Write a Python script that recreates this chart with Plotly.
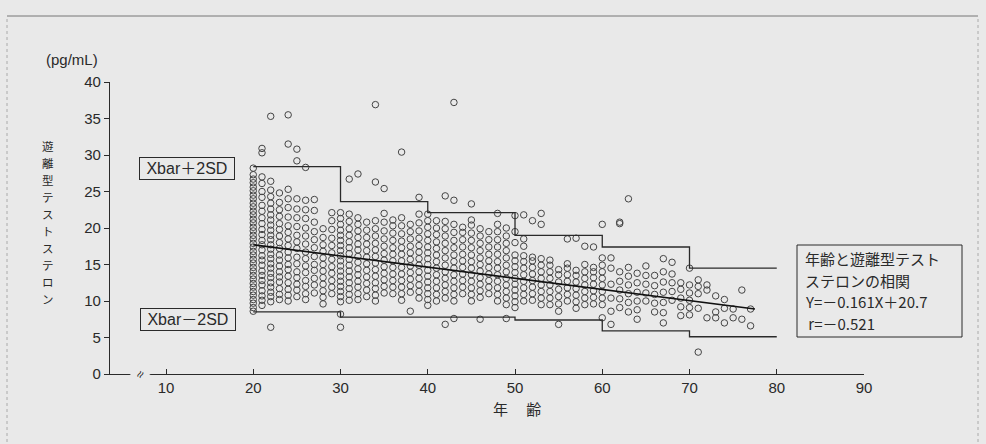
import plotly.graph_objects as go

# ---------------- data ----------------
# values per age; list index i -> age decade_start + i
vals_20s = [
    [8.6, 9.1, 9.7, 10.2, 10.8, 11.3, 11.9, 12.4, 13.0, 13.5, 14.1, 14.6, 15.2, 15.7, 16.3, 16.8, 17.4, 17.9, 18.5, 19.0, 19.6, 20.1, 20.7, 21.2, 21.8, 22.3, 22.9, 23.4, 24.0, 24.5, 25.1, 25.6, 26.2, 26.7, 27.3, 28.2],
    [9.4, 10.1, 10.7, 11.4, 12.2, 12.8, 13.5, 14.1, 14.9, 15.6, 16.2, 17.0, 17.7, 18.3, 19.1, 19.8, 20.6, 21.4, 22.3, 23.1, 24.2, 25.0, 26.1, 27.0, 30.3, 30.9],
    [6.4, 9.9, 10.6, 11.2, 11.9, 12.5, 13.2, 13.8, 14.5, 15.1, 15.8, 16.4, 17.1, 17.7, 18.4, 19.0, 19.7, 20.4, 21.1, 21.8, 22.6, 23.4, 24.3, 25.2, 26.4, 35.3],
    [10.2, 10.9, 11.7, 12.6, 13.3, 14.0, 14.8, 15.6, 16.3, 17.2, 18.0, 18.9, 19.8, 20.6, 21.6, 22.5, 23.5, 24.8],
    [10.0, 10.8, 11.6, 12.5, 13.4, 14.3, 15.0, 15.9, 16.7, 17.6, 18.5, 19.4, 20.3, 21.5, 22.8, 24.0, 25.3, 31.5, 35.5],
    [10.6, 11.5, 12.3, 13.2, 14.0, 15.1, 16.0, 17.2, 18.1, 19.0, 20.2, 21.4, 22.6, 24.0, 29.2, 30.8],
    [10.2, 11.0, 12.0, 12.8, 13.9, 14.8, 15.8, 16.7, 17.8, 18.9, 20.0, 21.3, 22.5, 23.8, 28.3],
    [11.1, 12.2, 13.1, 14.2, 15.0, 16.1, 17.3, 18.4, 19.5, 20.8, 22.4, 23.9],
    [9.6, 10.5, 11.4, 12.3, 13.2, 14.1, 15.0, 15.9, 16.8, 17.7, 18.7, 19.9],
    [11.0, 11.9, 12.8, 13.8, 14.7, 15.7, 16.6, 17.6, 18.6, 19.8, 21.0, 22.1],
]
vals_30s = [
    [6.4, 8.2, 9.9, 10.6, 11.3, 12.0, 12.7, 13.4, 14.1, 14.8, 15.5, 16.2, 16.9, 17.6, 18.3, 19.0, 19.7, 20.5, 21.3, 22.1],
    [10.1, 10.9, 11.7, 12.5, 13.3, 14.1, 14.9, 15.7, 16.5, 17.3, 18.1, 19.0, 19.9, 20.9, 21.9, 26.7],
    [10.2, 11.0, 11.9, 12.7, 13.6, 14.4, 15.3, 16.1, 17.0, 17.8, 18.7, 19.6, 20.5, 21.4, 27.4],
    [10.6, 11.5, 12.4, 13.3, 14.2, 15.1, 16.0, 16.9, 17.8, 18.7, 19.7, 20.8],
    [10.0, 10.8, 11.7, 12.5, 13.4, 14.3, 15.2, 16.1, 17.0, 17.9, 18.9, 19.9, 21.0, 26.3, 36.9],
    [11.1, 12.0, 12.9, 13.8, 14.7, 15.6, 16.5, 17.5, 18.5, 19.6, 20.8, 22.0, 25.4],
    [11.0, 11.9, 12.8, 13.7, 14.6, 15.5, 16.4, 17.3, 18.3, 19.3, 20.3, 21.1],
    [10.1, 11.0, 11.9, 12.8, 13.7, 14.6, 15.5, 16.4, 17.3, 18.2, 19.2, 20.3, 21.4, 30.4],
    [8.6, 11.2, 12.1, 13.0, 13.9, 14.8, 15.7, 16.6, 17.5, 18.5, 19.5, 20.5],
    [10.4, 11.3, 12.2, 13.1, 14.0, 14.9, 15.8, 16.7, 17.6, 18.6, 19.6, 20.7, 21.9, 24.2],
]
vals_40s = [
    [9.4, 10.2, 11.0, 11.8, 12.6, 13.4, 14.2, 15.0, 15.8, 16.6, 17.4, 18.3, 19.2, 20.1, 21.0, 21.9],
    [10.0, 10.9, 11.8, 12.7, 13.6, 14.5, 15.4, 16.3, 17.2, 18.1, 19.1, 20.0, 21.0],
    [6.8, 10.4, 11.3, 12.2, 13.1, 14.0, 14.9, 15.9, 16.9, 17.9, 18.9, 19.9, 20.9, 24.4],
    [7.6, 10.0, 10.9, 11.8, 12.7, 13.6, 14.5, 15.4, 16.3, 17.3, 18.3, 19.4, 20.5, 23.8, 37.2],
    [11.0, 11.9, 12.8, 13.7, 14.6, 15.5, 16.4, 17.4, 18.4, 19.4, 20.1],
    [10.0, 10.9, 11.8, 12.7, 13.6, 14.5, 15.4, 16.3, 17.3, 18.3, 19.3, 20.4, 21.1, 23.3],
    [7.5, 10.5, 11.4, 12.3, 13.2, 14.1, 15.0, 15.9, 16.9, 17.9, 18.9, 19.9],
    [11.0, 11.9, 12.8, 13.7, 14.6, 15.5, 16.4, 17.4, 18.4, 19.5],
    [10.0, 10.9, 11.8, 12.7, 13.6, 14.5, 15.4, 16.4, 17.4, 18.4, 19.5, 20.5, 22.0],
    [7.6, 9.5, 10.4, 11.3, 12.2, 13.1, 14.0, 14.9, 15.9, 16.9, 17.9, 18.9, 20.0],
]
vals_50s = [
    [9.1, 9.9, 10.7, 11.5, 12.3, 13.1, 13.9, 14.7, 15.5, 16.3, 18.0, 19.5, 21.7],
    [10.0, 10.9, 11.8, 12.7, 13.6, 14.5, 15.4, 16.2, 17.5, 18.5, 21.8],
    [10.1, 11.0, 11.9, 12.8, 13.7, 14.6, 15.5, 16.0, 21.0],
    [9.5, 10.4, 11.3, 12.2, 13.1, 14.0, 14.9, 15.8, 20.5, 22.0],
    [9.5, 10.4, 11.3, 12.2, 13.1, 14.0, 14.9, 15.6],
    [6.8, 8.6, 9.6, 10.6, 11.6, 12.6, 13.6, 14.3],
    [10.0, 10.9, 11.8, 12.7, 13.6, 14.5, 15.1, 18.5],
    [9.0, 9.9, 10.8, 11.7, 12.6, 13.5, 14.2, 18.6],
    [9.5, 10.4, 11.3, 12.2, 13.1, 14.0, 15.0, 17.5],
    [9.6, 10.5, 11.4, 12.3, 13.2, 14.0, 14.6, 17.4],
]
vals_60s = [
    [7.7, 9.5, 10.4, 11.3, 12.2, 13.1, 14.0, 14.9, 15.9, 20.5],
    [6.8, 8.6, 10.4, 12.3, 14.5, 15.9],
    [9.1, 10.3, 11.5, 12.7, 14.0, 20.6, 20.8],
    [8.5, 9.8, 11.0, 12.2, 13.4, 14.6, 24.0],
    [7.5, 8.8, 10.0, 11.2, 12.5, 13.8],
    [10.0, 11.1, 12.3, 13.5, 14.8],
    [8.5, 9.7, 10.9, 12.1, 13.5],
    [7.0, 8.4, 9.8, 11.2, 12.6, 14.0, 15.8],
    [10.1, 11.3, 12.5, 13.7, 15.3],
    [8.0, 9.2, 10.4, 11.6, 12.5],
]
vals_70s = [
    [8.1, 9.1, 10.1, 11.1, 12.2, 14.5],
    [3.0, 9.0, 11.0, 12.0, 12.9],
    [7.7, 11.5, 12.2],
    [7.7, 8.5, 10.7],
    [7.0, 9.0, 10.2],
    [7.7, 8.9],
    [7.5, 11.5],
    [6.6, 8.9],
]

# Xbar ± 2SD step lines (per decade)
sd_ages = [20, 30, 40, 50, 60, 70, 80]
upper_2sd = [28.4, 23.6, 22.1, 19.0, 17.4, 14.5, 14.5]
lower_2sd = [8.5, 7.8, 7.8, 7.4, 5.9, 5.1, 5.1]

# regression line as drawn
reg_x = [20, 77.5]
reg_y = [17.7, 8.9]

x_ticks = [10, 20, 30, 40, 50, 60, 70, 80, 90]
y_ticks = [0, 5, 10, 15, 20, 25, 30, 35, 40]

y_title = "遊離型テストステロン"
note_lines = ["年齢と遊離型テスト", "ステロンの相関", "Y=－0.161X＋20.7", " r=－0.521"]

# ---------------- build ----------------
ages, values = [], []
for start, block in [(20, vals_20s), (30, vals_30s), (40, vals_40s),
                     (50, vals_50s), (60, vals_60s), (70, vals_70s)]:
    for i, col in enumerate(block):
        for v in col:
            ages.append(start + i)
            values.append(v)

FONT = "Liberation Sans, Arial, Noto Sans CJK JP, sans-serif"
JFONT = "Noto Sans CJK JP, Liberation Sans, sans-serif"
INK = "#2a2a2a"
BG = "#e9e9e9"

L, R, T, B = 110, 122, 82, 70
W, H = 986, 444
plot_w = W - L - R
plot_h = H - T - B


def px_x(px):
    return (px - L) / plot_w


def px_y(py):
    return (H - B - py) / plot_h


fig = go.Figure()
fig.add_trace(go.Scatter(
    x=ages, y=values, mode="markers",
    marker=dict(symbol="circle-open", size=6.5, color="#444", line=dict(width=1)),
    showlegend=False, hoverinfo="x+y"))
fig.add_trace(go.Scatter(x=sd_ages, y=upper_2sd, mode="lines", line=dict(shape="hv", color=INK, width=1.3), showlegend=False))
fig.add_trace(go.Scatter(x=sd_ages, y=lower_2sd, mode="lines", line=dict(shape="hv", color=INK, width=1.3), showlegend=False))
fig.add_trace(go.Scatter(x=reg_x, y=reg_y, mode="lines", line=dict(color="#111", width=1.6), showlegend=False))

C = dict(xanchor="center", yanchor="middle", showarrow=False)
ann = []
ann.append(dict(text="(pg/mL)", xref="paper", yref="paper", x=px_x(72), y=px_y(60),
                font=dict(family=FONT, size=15, color=INK), **C))
# vertical (top-to-bottom) axis title, one character per annotation
for i, ch in enumerate(y_title):
    ann.append(dict(text=ch, xref="paper", yref="paper", x=px_x(48), y=px_y(146 + i * 17.0),
                    font=dict(family=JFONT, size=11.5, color=INK), **C))
ann.append(dict(text="年 　齢", xref="paper", yref="paper", x=px_x(517), y=px_y(408),
                font=dict(family=JFONT, size=15, color=INK), **C))
ann.append(dict(text=" Xbar＋2SD ", x=12.4, y=28.15, bordercolor=INK, borderwidth=1,
                borderpad=2, font=dict(family=FONT, size=16, color=INK), **C))
ann.append(dict(text=" Xbar－2SD ", x=12.5, y=7.5, bordercolor=INK, borderwidth=1,
                borderpad=2, font=dict(family=FONT, size=16, color=INK), **C))
# correlation note: one annotation per line inside a drawn box
for i, line in enumerate(note_lines):
    ann.append(dict(text=line, xref="paper", yref="paper", x=px_x(803), y=px_y(258.5 + i * 21.7),
                    xanchor="left", yanchor="middle", showarrow=False,
                    font=dict(family=JFONT, size=15, color=INK)))
ann.append(dict(text="≈", x=7, y=0, textangle=-60, bgcolor=BG,
                font=dict(family=FONT, size=13, color=INK), **C))

shapes = [
    dict(type="rect", xref="paper", yref="paper", x0=px_x(797), x1=px_x(962), y0=px_y(337), y1=px_y(245),
         line=dict(color=INK, width=1)),
    # faint frame of the scanned page
    dict(type="line", xref="paper", yref="paper", x0=px_x(7), x1=px_x(978), y0=px_y(16), y1=px_y(16),
         line=dict(color="#777", width=1)),
    dict(type="line", xref="paper", yref="paper", x0=px_x(7), x1=px_x(7), y0=px_y(460), y1=px_y(16),
         line=dict(color="#aaa", width=1, dash="dot")),
    dict(type="line", xref="paper", yref="paper", x0=px_x(978), x1=px_x(978), y0=px_y(460), y1=px_y(16),
         line=dict(color="#aaa", width=1, dash="dot")),
]

fig.update_layout(
    width=W, height=H,
    margin=dict(l=L, r=R, t=T, b=B),
    paper_bgcolor=BG, plot_bgcolor=BG,
    annotations=ann, shapes=shapes,
    font=dict(family=FONT, size=15, color=INK),
)
fig.update_xaxes(range=[3.58, 90], tickvals=x_ticks, ticks="inside", ticklen=5, tickcolor=INK,
                 showline=True, linecolor=INK, linewidth=1.2, showgrid=False, zeroline=False,
                 tickfont=dict(family=FONT, size=15, color=INK))
fig.update_yaxes(range=[0, 40], tickvals=y_ticks, ticks="outside", ticklen=5, tickcolor=INK,
                 showline=True, linecolor=INK, linewidth=1.2, showgrid=False, zeroline=False,
                 tickfont=dict(family=FONT, size=15, color=INK))

fig.write_html("out.html", config={"displayModeBar": False},
               post_script="document.body.style.margin='0';document.body.style.background='%s';" % BG)
